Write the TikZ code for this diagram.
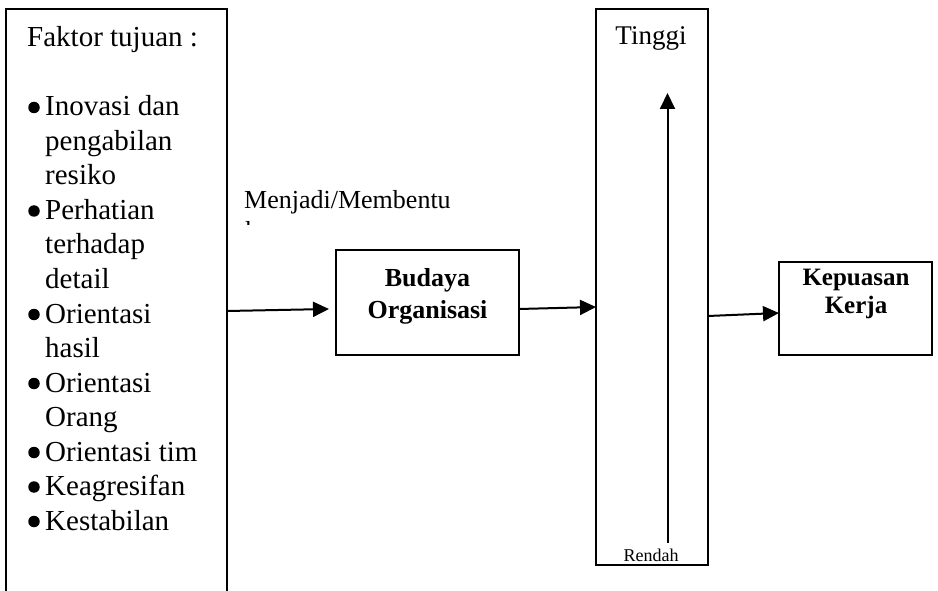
\documentclass[tikz,border=0pt]{standalone}
\usepackage{fontspec}
\setmainfont{Liberation Serif}
\usetikzlibrary{arrows.meta}
\begin{document}
\begin{tikzpicture}[x=1pt,y=-1pt,
  box/.style={draw, line width=1.8pt, inner sep=0pt},
  conn/.style={line width=2pt, -{Triangle[length=16pt,width=15pt]}},
  body/.style={font=\fontsize{29}{34.5}\selectfont, inner sep=0pt, anchor=base west},
  bold/.style={font=\bfseries\fontsize{#1}{#1}\selectfont, inner sep=0pt, anchor=base},
  dot/.style={circle, fill, inner sep=0pt, minimum size=11.5pt},
]
\useasboundingbox (0,0) rectangle (938,591);

% left box (open at the bottom)
\coordinate (fbl) at (6,596);
\coordinate (ftl) at (6,9);
\coordinate (ftr) at (227,9);
\coordinate (fbr) at (227,596);
\draw[line width=1.8pt] (fbl) -- (ftl) -- (ftr) -- (fbr);

\node[body] (ftitle) at (27,47) {Faktor tujuan :};
\foreach \i/\b/\t in {0/1/Inovasi dan,1/0/pengabilan,2/0/resiko,
  3/1/Perhatian,4/0/terhadap,5/0/detail,6/1/Orientasi,7/0/hasil,
  8/1/Orientasi,9/0/Orang,10/1/Orientasi tim,11/1/Keagresifan,12/1/Kestabilan}{
  \ifnum\b=1
    \node[dot] (b\i) at (34,107.5+34.5*\i) {};
  \fi
  \node[body] (l\i) at (45,116+34.5*\i) {\t};
}

% Budaya Organisasi
\node[box, minimum width=183pt, minimum height=105pt] (budaya) at (427.5,302.5) {};
\node[bold=26] (bud1) at (427.5,287) {Budaya};
\node[bold=26] (bud2) at (427.5,318) {Organisasi};

% tall scale box
\node[box, minimum width=112pt, minimum height=556pt] (scale) at (652,287) {};
\node[font=\fontsize{27}{27}\selectfont, inner sep=0pt, anchor=base] (tinggi) at (651,45) {Tinggi};
\node[font=\fontsize{18}{18}\selectfont, inner sep=0pt, anchor=base] (rendah) at (651,561) {Rendah};
\coordinate (vlow) at (667.5,543);
\coordinate (vhigh) at (667.5,93);
\draw[conn] (vlow) -- (vhigh);

% Kepuasan Kerja
\node[box, minimum width=153pt, minimum height=93pt] (kepuasan) at (855.5,308.5) {};
\node[bold=25] (kep1) at (856,285) {Kepuasan};
\node[bold=25] (kep2) at (856,313) {Kerja};

% label
\node[font=\fontsize{26}{26}\selectfont, inner sep=0pt, anchor=base west] (menjadi) at (244,209) {Menjadi/Membentu};
\begin{scope}
  \clip (238,200) rectangle (262,225);
  \node[font=\fontsize{26}{26}\selectfont, inner sep=0pt, anchor=base west] (menjadik) at (245,240) {k};
\end{scope}

% connectors
\coordinate (a1s) at (227,311);
\coordinate (a1e) at (329,309);
\coordinate (a2s) at (519,309);
\coordinate (a2e) at (596,307);
\coordinate (a3s) at (708,316);
\coordinate (a3e) at (779,313);
\draw[conn] (a1s) -- (a1e);
\draw[conn] (a2s) -- (a2e);
\draw[conn] (a3s) -- (a3e);
\end{tikzpicture}
\end{document}
